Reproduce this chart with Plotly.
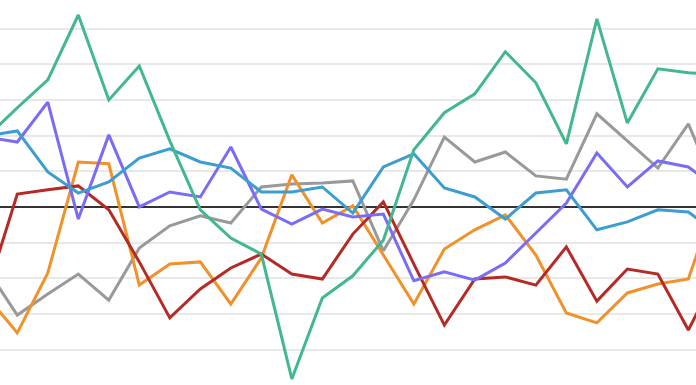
import plotly.graph_objects as go

x = list(range(25))

green = [1.96, 2.78, 3.56, 5.38, 3.00, 3.95, 1.85, -0.08, -0.87, -1.32, -4.82, -2.55, -1.93,
         -0.93, 1.60, 2.64, 3.17, 4.35, 3.48, 1.77, 5.27, 2.35, 3.87, 3.76, 3.70]
blue = [1.99, 2.13, 0.98, 0.39, 0.70, 1.37, 1.63, 1.26, 1.09, 0.42, 0.42, 0.56, -0.17,
        1.12, 1.49, 0.53, 0.28, -0.34, 0.39, 0.48, -0.64, -0.42, -0.08, -0.14, -0.78]
purple = [1.96, 1.82, 2.94, -0.34, 2.02, 0.00, 0.42, 0.28, 1.68, -0.06, -0.48, -0.06, -0.28,
          -0.20, -2.07, -1.82, -2.05, -1.57, -0.73, 0.11, 1.51, 0.56, 1.29, 1.12, 0.48]
orange = [-2.50, -3.53, -1.85, 1.26, 1.21, -2.19, -1.60, -1.54, -2.72, -1.43, 0.90, -0.45, 0.03,
          -1.35, -2.72, -1.18, -0.64, -0.22, -1.35, -2.97, -3.25, -2.41, -2.16, -2.02, 0.48]
red = [-2.38, 0.36, 0.48, 0.59, -0.08, -1.54, -3.11, -2.30, -1.71, -1.32, -1.88, -2.02, -0.76,
       0.14, -1.60, -3.31, -2.02, -1.96, -2.19, -1.12, -2.64, -1.74, -1.88, -3.45, -1.77]
grey = [-1.74, -3.03, -2.44, -1.88, -2.61, -1.15, -0.53, -0.25, -0.45, 0.56, 0.64, 0.67, 0.73,
        -1.23, 0.20, 1.96, 1.26, 1.54, 0.87, 0.78, 2.61, 1.85, 1.09, 2.33, 0.31]

series = [
    ("grey", grey, "#999999"),
    ("orange", orange, "#f0912a"),
    ("red", red, "#b62a26"),
    ("purple", purple, "#7b6cf6"),
    ("blue", blue, "#3b9dd0"),
    ("green", green, "#42b792"),
]

fig = go.Figure()
for name, ys, color in series:
    fig.add_trace(go.Scatter(x=x, y=ys, mode="lines", name=name,
                             line=dict(color=color, width=3), showlegend=False))

fig.update_layout(
    width=696, height=385,
    margin=dict(l=0, r=0, t=0, b=0),
    paper_bgcolor="white", plot_bgcolor="white",
    xaxis=dict(range=[0.433, 23.25], showgrid=False, zeroline=False,
               showticklabels=False, ticks=""),
    yaxis=dict(range=[-4.99, 5.80], dtick=1, showgrid=True, gridcolor="#e8e8e8",
               gridwidth=1.5, zeroline=True, zerolinecolor="#333333", zerolinewidth=1.5,
               showticklabels=False, ticks=""),
    modebar=dict(bgcolor="rgba(0,0,0,0)", color="rgba(0,0,0,0)", activecolor="rgba(0,0,0,0)"),
)

fig.write_html(
    "out.html",
    config={"responsive": False},
    post_script=(
        "document.body.style.margin='0';document.body.style.overflow='hidden';"
        "var s=document.createElement('style');"
        "s.textContent='.modebar-container{opacity:0 !important;}';"
        "document.head.appendChild(s);"
    ),
)
